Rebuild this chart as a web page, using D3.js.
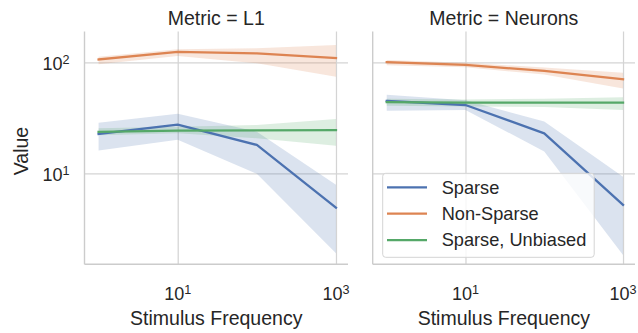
<!doctype html>
<html lang="en">
<head>
<meta charset="UTF-8">
<title>Metric facets</title>
<style>
    body { margin: 0; background: #fff; }
    text { font-family: "Liberation Sans", Arial, sans-serif; fill: #262626; }
    .grid line { stroke: #d4d4d4; stroke-width: 1.25; }
    .grid path { display: none; }
</style>
</head>
<body>
<div class="chart"></div>
<script src="https://d3js.org/d3.v7.min.js"></script>
<script>
	const freqs = [1, 10, 100, 1000]
	const metrics = ['L1', 'Neurons']
	const seriesNames = ['Sparse', 'Non-Sparse', 'Sparse, Unbiased']
	const colors = ['#4c72b0', '#dd8452', '#55a868']
	const xTicks = [10, 1000]
	const yTicks = [10, 100]

	// Metric = L1
	const l1Sparse = [22.6, 27.4, 18.0, 4.9]
	const l1SparseLo = [16.0, 20.0, 9.9, 1.9]
	const l1SparseHi = [28.5, 34.3, 23.7, 7.9]
	const l1NonSparse = [106, 124, 120, 109]
	const l1NonSparseLo = [96, 114, 98, 74]
	const l1NonSparseHi = [112, 131, 134, 143]
	const l1Unbiased = [23.6, 24.2, 24.3, 24.5]
	const l1UnbiasedLo = [22.0, 22.9, 20.7, 17.7]
	const l1UnbiasedHi = [25.5, 26.3, 27.2, 30.8]

	// Metric = Neurons
	const nSparse = [44.9, 41.2, 22.9, 5.2]
	const nSparseLo = [36.5, 37.2, 15.7, 1.84]
	const nSparseHi = [51, 45.5, 29.2, 9.3]
	const nNonSparse = [100, 94.6, 83.5, 70.3]
	const nNonSparseLo = [94, 90, 77.5, 58]
	const nNonSparseHi = [105, 99, 89.5, 80.6]
	const nUnbiased = [43.7, 43.2, 43.3, 43.3]
	const nUnbiasedLo = [40.5, 40, 39.5, 37.2]
	const nUnbiasedHi = [47, 46.2, 47, 48.4]

	const panelData = [
		[[l1Sparse, l1SparseLo, l1SparseHi], [l1NonSparse, l1NonSparseLo, l1NonSparseHi], [l1Unbiased, l1UnbiasedLo, l1UnbiasedHi]],
		[[nSparse, nSparseLo, nSparseHi], [nNonSparse, nNonSparseLo, nNonSparseHi], [nUnbiased, nUnbiasedLo, nUnbiasedHi]]
	]

	const width = 638, height = 333
	const panels = [{left: 84.5, right: 348}, {left: 372.7, right: 635}]
	const plotTop = 31.5, plotBottom = 264.3

	const svg = d3.select('.chart')
		.append('svg')
		.attr('width', width)
		.attr('height', height)

	const yScale = d3.scaleLog()
		.domain([Math.pow(10, 0.18), Math.pow(10, 2.277)])
		.range([plotBottom, plotTop])

	panels.forEach(function(p, i) {
		const xScale = d3.scaleLog()
			.domain([Math.pow(10, -0.178), Math.pow(10, 3.152)])
			.range([p.left, p.right])
		const w = p.right - p.left
		const g = svg.append('g')

		// grid
		g.append('g')
			.attr('class', 'grid')
			.attr('transform', 'translate(0,' + plotBottom + ')')
			.call(d3.axisBottom(xScale).tickValues(xTicks).tickSize(-(plotBottom - plotTop)).tickFormat(''))
		g.append('g')
			.attr('class', 'grid')
			.attr('transform', 'translate(' + p.left + ',0)')
			.call(d3.axisLeft(yScale).tickValues(yTicks).tickSize(-w).tickFormat(''))

		// bands then lines
		const area = d3.area()
			.x((d, j) => xScale(freqs[j]))
			.y0(d => yScale(d[0]))
			.y1(d => yScale(d[1]))
		const line = d3.line()
			.x((d, j) => xScale(freqs[j]))
			.y(d => yScale(d))

		panelData[i].forEach(function(s, k) {
			const bandPts = s[1].map((lo, j) => [lo, s[2][j]])
			g.append('path')
				.attr('d', area(bandPts))
				.attr('fill', colors[k])
				.attr('fill-opacity', 0.2)
		})
		panelData[i].forEach(function(s, k) {
			g.append('path')
				.attr('d', line(s[0]))
				.attr('fill', 'none')
				.attr('stroke', colors[k])
				.attr('stroke-width', 2.3)
				.attr('stroke-linejoin', 'round')
				.attr('stroke-linecap', 'square')
		})

		// spines
		g.append('line')
			.attr('x1', p.left).attr('x2', p.left)
			.attr('y1', plotTop).attr('y2', plotBottom)
			.attr('stroke', '#cccccc').attr('stroke-width', 1.4)
		g.append('line')
			.attr('x1', p.left).attr('x2', p.right)
			.attr('y1', plotBottom).attr('y2', plotBottom)
			.attr('stroke', '#cccccc').attr('stroke-width', 1.4)

		// x tick labels
		xTicks.forEach(function(t) {
			const lab = g.append('text')
				.attr('x', xScale(t))
				.attr('y', 300)
				.attr('text-anchor', 'middle')
				.style('font-size', '18px')
			lab.append('tspan').text('10')
			lab.append('tspan').attr('dy', -5.8).style('font-size', '12.6px').text(Math.round(Math.log10(t)))
		})

		// y tick labels on the first panel only
		if (i === 0) {
			yTicks.forEach(function(t) {
				const lab = g.append('text')
					.attr('x', 69.5)
					.attr('y', yScale(t) + 8)
					.attr('text-anchor', 'end')
					.style('font-size', '18px')
				lab.append('tspan').text('10')
				lab.append('tspan').attr('dy', -5.8).style('font-size', '12.6px').text(Math.round(Math.log10(t)))
			})
			g.append('text')
				.attr('transform', 'translate(27.5,' + 151 + ') rotate(-90)')
				.attr('text-anchor', 'middle')
				.style('font-size', '19.5px')
				.text('Value')
		}

		g.append('text')
			.attr('x', (p.left + p.right) / 2)
			.attr('y', 25)
			.attr('text-anchor', 'middle')
			.style('font-size', '19.5px')
			.text('Metric = ' + metrics[i])
		g.append('text')
			.attr('x', (p.left + p.right) / 2)
			.attr('y', 325)
			.attr('text-anchor', 'middle')
			.style('font-size', '19.5px')
			.text('Stimulus Frequency')
	})

	// Legend
	const legend = svg.append('g')
		.attr('id', 'legend')
	legend.append('rect')
		.attr('x', 382.7)
		.attr('y', 173.3)
		.attr('width', 211.5)
		.attr('height', 84)
		.attr('rx', 3)
		.attr('fill', '#ffffff')
		.attr('fill-opacity', 0.8)
		.attr('stroke', '#d4d4d4')
		.attr('stroke-width', 1)
	seriesNames.forEach(function(name, k) {
		const y = 187.3 + k * 26.4
		legend.append('line')
			.attr('x1', 387).attr('x2', 427)
			.attr('y1', y).attr('y2', y)
			.attr('stroke', colors[k])
			.attr('stroke-width', 2.3)
		legend.append('text')
			.attr('x', 441.7)
			.attr('y', y)
			.attr('dy', '0.35em')
			.style('font-size', '18.2px')
			.text(name)
	})
</script>
</body>
</html>
